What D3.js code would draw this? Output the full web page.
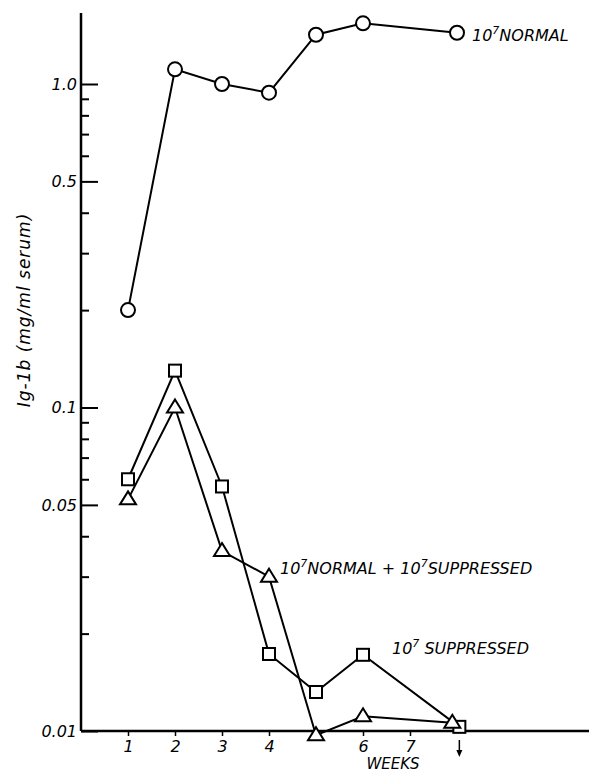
<!DOCTYPE html>
<html>
<head>
<meta charset="utf-8">
<script src="https://cdn.jsdelivr.net/npm/d3@7"></script>
<style>
  body { margin: 0; background: #fff; }
  text { font-family: "DejaVu Sans", sans-serif; font-style: italic; fill: #000; }
</style>
</head>
<body>
<svg id="chart" width="589" height="774"></svg>
<script>
// weeks and serum levels (mg/ml)
const normalWeeks = [1, 2, 3, 4, 5, 6, 8];
const normalValues = [0.2, 1.11, 1.0, 0.94, 1.42, 1.54, 1.44];

const suppressedWeeks = [1, 2, 3, 4, 5, 6, 8.05];
const suppressedValues = [0.06, 0.13, 0.057, 0.0173, 0.0132, 0.0172, 0.0103];

const mixedWeeks = [1, 2, 3, 4, 5, 6, 7.9];
const mixedValues = [0.052, 0.1, 0.036, 0.03, 0.0097, 0.0111, 0.0106];

const weekTicks = [1, 2, 3, 4, 6, 7];
const majorTicks = [1, 0.5, 0.1, 0.05, 0.01];
const majorLabels = ["1.0", "0.5", "0.1", "0.05", "0.01"];
const minorTicks = [0.9, 0.8, 0.7, 0.6, 0.4, 0.3, 0.2, 0.09, 0.08, 0.07, 0.06, 0.04, 0.03, 0.02];

const svg = d3.select("#chart");

const x = d3.scaleLinear().domain([1, 8]).range([128, 457]);
const y = d3.scaleLog().domain([0.01, 1]).range([731, 84]);

const axisX = 81;
const axisY = 731;

// y ticks, pointing into the plot
const yMajor = d3.axisLeft(y)
  .tickValues(majorTicks)
  .tickFormat((d, i) => majorLabels[i])
  .tickSize(-17)
  .tickPadding(4);

const yMajorG = svg.append("g")
  .attr("transform", `translate(${axisX},0)`)
  .call(yMajor);
yMajorG.select(".domain").remove();
yMajorG.selectAll(".tick line").attr("stroke", "#000").attr("stroke-width", 2);
yMajorG.selectAll(".tick text")
  .attr("font-size", 16)
  .attr("font-family", "DejaVu Sans")
  .attr("font-style", "italic");

const yMinorG = svg.append("g")
  .attr("transform", `translate(${axisX},0)`)
  .call(d3.axisLeft(y).tickValues(minorTicks).tickFormat("").tickSize(-8));
yMinorG.select(".domain").remove();
yMinorG.selectAll(".tick line").attr("stroke", "#000").attr("stroke-width", 2);

// x ticks
const xAxisG = svg.append("g")
  .attr("transform", `translate(0,${axisY})`)
  .call(d3.axisBottom(x).tickValues(weekTicks).tickFormat(d3.format("d")).tickSize(5).tickPadding(5));
xAxisG.select(".domain").remove();
xAxisG.selectAll(".tick line").attr("stroke", "#000").attr("stroke-width", 1.5);
xAxisG.selectAll(".tick text")
  .attr("font-size", 16)
  .attr("font-family", "DejaVu Sans")
  .attr("font-style", "italic");

// axis lines
svg.append("line")
  .attr("x1", axisX).attr("x2", axisX)
  .attr("y1", 13).attr("y2", axisY)
  .attr("stroke", "#000").attr("stroke-width", 2.5);
svg.append("line")
  .attr("x1", axisX).attr("x2", 589)
  .attr("y1", axisY).attr("y2", axisY)
  .attr("stroke", "#000").attr("stroke-width", 2.5);

// axis titles
svg.append("text")
  .attr("x", 393)
  .attr("y", 769)
  .attr("text-anchor", "middle")
  .attr("font-size", 15)
  .text("WEEKS");

svg.append("text")
  .attr("transform", "translate(30,310) rotate(-90)")
  .attr("text-anchor", "middle")
  .attr("font-size", 17)
  .attr("letter-spacing", 1)
  .text("Ig-1b (mg/ml serum)");

// series
const series = [
  { weeks: normalWeeks, values: normalValues, shape: "circle" },
  { weeks: suppressedWeeks, values: suppressedValues, shape: "square" },
  { weeks: mixedWeeks, values: mixedValues, shape: "triangle" }
];

const line = d3.line()
  .x(d => x(d[0]))
  .y(d => y(d[1]));

series.forEach(s => {
  const pts = s.weeks.map((w, i) => [w, s.values[i]]);
  svg.append("path")
    .datum(pts)
    .attr("d", line)
    .attr("fill", "none")
    .attr("stroke", "#000")
    .attr("stroke-width", 2);
});

series.forEach(s => {
  const pts = s.weeks.map((w, i) => [w, s.values[i]]);
  const g = svg.append("g");
  if (s.shape === "circle") {
    g.selectAll("circle").data(pts).enter().append("circle")
      .attr("cx", d => x(d[0]))
      .attr("cy", d => y(d[1]))
      .attr("r", 7)
      .attr("fill", "#fff")
      .attr("stroke", "#000")
      .attr("stroke-width", 2);
  } else if (s.shape === "square") {
    g.selectAll("rect").data(pts).enter().append("rect")
      .attr("x", d => x(d[0]) - 6)
      .attr("y", d => y(d[1]) - 6)
      .attr("width", 12)
      .attr("height", 12)
      .attr("fill", "#fff")
      .attr("stroke", "#000")
      .attr("stroke-width", 2);
  } else {
    g.selectAll("path").data(pts).enter().append("path")
      .attr("d", d => {
        const cx = x(d[0]), cy = y(d[1]);
        return `M${cx},${cy - 8}L${cx + 8},${cy + 5}L${cx - 8},${cy + 5}Z`;
      })
      .attr("fill", "#fff")
      .attr("stroke", "#000")
      .attr("stroke-width", 2)
      .attr("stroke-linejoin", "miter");
  }
});

// arrow under last suppressed point (below detection)
const ax = x(suppressedWeeks[suppressedWeeks.length - 1]);
svg.append("line")
  .attr("x1", ax).attr("x2", ax)
  .attr("y1", 740).attr("y2", 752)
  .attr("stroke", "#000").attr("stroke-width", 1.5);
svg.append("path")
  .attr("d", `M${ax - 3},${750}L${ax + 3},${750}L${ax},${757}Z`)
  .attr("fill", "#000");

// series labels; "^" marks a superscript 7
function seriesLabel(xp, yp, parts) {
  const t = svg.append("text").attr("x", xp).attr("y", yp).attr("font-size", 16);
  let raised = false;
  parts.forEach(p => {
    const ts = t.append("tspan");
    if (p.sup) {
      ts.attr("dy", -7).attr("font-size", 11).text(p.sup);
      raised = true;
    } else {
      if (raised) ts.attr("dy", 7);
      raised = false;
      ts.text(p.text);
    }
  });
}

seriesLabel(472, 41, [{ text: "10" }, { sup: "7" }, { text: "NORMAL" }]);
seriesLabel(280, 574, [{ text: "10" }, { sup: "7" }, { text: "NORMAL + 10" }, { sup: "7" }, { text: "SUPPRESSED" }]);
seriesLabel(392, 654, [{ text: "10" }, { sup: "7" }, { text: " SUPPRESSED" }]);
</script>
</body>
</html>
